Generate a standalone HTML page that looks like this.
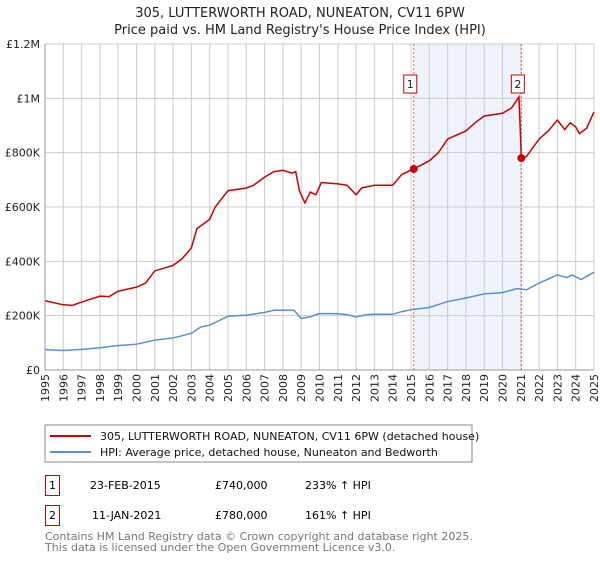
<!DOCTYPE html>
<html><head><meta charset="utf-8"><style>
body{margin:0;background:#fff;font-family:"Liberation Sans","DejaVu Sans",sans-serif;}
svg text{font-family:"DejaVu Sans","Liberation Sans",sans-serif;}
</style></head><body>
<svg id="c" width="600" height="560" xmlns="http://www.w3.org/2000/svg">
<text x="300" y="17" text-anchor="middle" font-size="13" fill="#222">305, LUTTERWORTH ROAD, NUNEATON, CV11 6PW</text>
<text x="300" y="34" text-anchor="middle" font-size="13" fill="#222">Price paid vs. HM Land Registry's House Price Index (HPI)</text>
<g id="grid"></g><g id="marks"></g><g id="axes"></g>
<rect x="45" y="425" width="427" height="37" fill="#fff" stroke="#888"/>
<line x1="50" y1="436" x2="91" y2="436" stroke="#cc0000" stroke-width="2"/>
<text x="100" y="440" font-size="11" fill="#111">305, LUTTERWORTH ROAD, NUNEATON, CV11 6PW (detached house)</text>
<line x1="50" y1="452" x2="91" y2="452" stroke="#5b8fd4" stroke-width="2"/>
<text x="100" y="456" font-size="11" fill="#111">HPI: Average price, detached house, Nuneaton and Bedworth</text>
<g>
<rect x="45.5" y="475.5" width="14" height="20" fill="#fff" stroke="#cc0000"/>
<text x="52.5" y="489" font-size="11" text-anchor="middle">1</text>
<text x="90" y="489" font-size="11">23-FEB-2015</text>
<text x="215" y="489" font-size="11">£740,000</text>
<text x="305" y="489" font-size="11">233% ↑ HPI</text></g>
<g>
<rect x="45.5" y="505.5" width="14" height="20" fill="#fff" stroke="#cc0000"/>
<text x="52.5" y="519" font-size="11" text-anchor="middle">2</text>
<text x="92" y="519" font-size="11">11-JAN-2021</text>
<text x="215" y="519" font-size="11">£780,000</text>
<text x="305" y="519" font-size="11">161% ↑ HPI</text></g>
<text x="45" y="540" font-size="11" fill="#777">Contains HM Land Registry data © Crown copyright and database right 2025.</text>
<text x="45" y="551" font-size="11" fill="#777">This data is licensed under the Open Government Licence v3.0.</text>
</svg>
<script>
const yTicks=[0,200,400,600,800,1000,1200];
const yTickLabels=["£0","£200K","£400K","£600K","£800K","£1M","£1.2M"];
const years=[1995,1996,1997,1998,1999,2000,2001,2002,2003,2004,2005,2006,2007,2008,2009,2010,2011,2012,2013,2014,2015,2016,2017,2018,2019,2020,2021,2022,2023,2024,2025];
const priceT=[1995,1996,1996.5,1997,1998,1998.5,1999,2000,2000.5,2001,2002,2002.5,2003,2003.3,2004,2004.3,2005,2006,2006.4,2007,2007.5,2008,2008.5,2008.7,2008.9,2009.2,2009.5,2009.8,2010.1,2011,2011.5,2012,2012.3,2013,2014,2014.5,2015.15,2016,2016.5,2017,2018,2018.5,2019,2020,2020.5,2020.9,2021.03,2021.3,2022,2022.5,2023,2023.4,2023.7,2024,2024.2,2024.6,2025];
const priceV=[255,240,238,250,272,270,290,305,320,365,385,410,450,520,555,600,660,670,680,710,730,735,725,730,660,615,655,645,690,685,680,645,670,680,680,720,740,770,800,850,880,910,935,945,965,1005,780,785,850,880,920,885,910,895,870,890,950];
const hpiT=[1995,1996,1997,1998,1999,2000,2001,2002,2003,2003.5,2004,2005,2006,2007,2007.5,2008.6,2009,2009.5,2010,2011,2011.5,2012,2012.5,2013,2014,2014.5,2015,2016,2017,2018,2019,2020,2020.8,2021.3,2022,2023,2023.5,2023.8,2024.3,2025];
const hpiV=[75,72,76,82,90,95,110,118,135,158,165,198,202,212,220,220,190,196,208,207,204,195,203,205,205,215,222,230,252,265,280,285,300,295,320,350,340,350,333,360];
const salesT=[2015.15,2021.03];
const salesV=[740,780];
const salesLabels=["1","2"];
const X=t=>45+(t-1995)*(549/30);
const Y=v=>370-v*(326/1200);
const NS="http://www.w3.org/2000/svg";
function mk(p,tag,a){const e=document.createElementNS(NS,tag);for(const k in a)e.setAttribute(k,a[k]);p.appendChild(e);return e;}
const grid=document.getElementById('grid'),marks=document.getElementById('marks'),axes=document.getElementById('axes');
const shade=mk(grid,'rect',{x:X(salesT[0]),y:44,width:X(salesT[1])-X(salesT[0]),height:326,fill:'#eef3fc'});


years.forEach(y=>{const l=mk(grid,'line',{x1:X(y),x2:X(y),y1:44,y2:370,stroke:'#ccc'});


const t=mk(axes,'text',{x:0,y:0,'font-size':11,fill:'#222','text-anchor':'end',transform:`translate(${X(y)+4},374) rotate(-90)`});t.textContent=y;

});
yTicks.forEach((v,i)=>{const l=mk(grid,'line',{x1:45,x2:594,y1:Y(v),y2:Y(v),stroke:'#ccc'});


const t=mk(axes,'text',{x:40,y:Y(v)+4,'font-size':11,fill:'#222','text-anchor':'end'});t.textContent=yTickLabels[i];

});
const ax=mk(axes,'path',{d:'M45,44V370H594',fill:'none',stroke:'#999'});


salesT.forEach((t,i)=>{const l=mk(marks,'line',{x1:X(t),x2:X(t),y1:44,y2:370,stroke:'#e06060','stroke-dasharray':'2,2'});


const r=mk(marks,'rect',{x:X(t)-10,y:75,width:13,height:18,fill:'#fff',stroke:'#cc0000'});


const tx=mk(marks,'text',{x:X(t)-3.5,y:88,'font-size':11,'text-anchor':'middle',fill:'#222'});tx.textContent=salesLabels[i];

});
const hp=mk(marks,'polyline',{points:hpiT.map((t,i)=>X(t)+','+Y(hpiV[i])).join(' '),fill:'none',stroke:'#5b8fd4','stroke-width':1.5});


const pp=mk(marks,'polyline',{points:priceT.map((t,i)=>X(t)+','+Y(priceV[i])).join(' '),fill:'none',stroke:'#cc0000','stroke-width':1.5});


salesT.forEach((t,i)=>{const c=mk(marks,'circle',{cx:X(t),cy:Y(salesV[i]),r:4,fill:'#cc0000'});

});
</script>
</body></html>
